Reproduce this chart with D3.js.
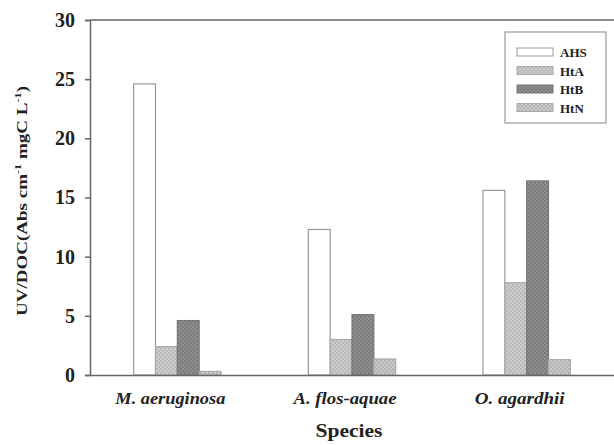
<!DOCTYPE html>
<meta charset="utf-8">
<style>
  body { margin: 0; background: #fff; }
  text { font-family: "Liberation Serif", "DejaVu Serif", serif; font-weight: bold; fill: #222; }
</style>
<body>
<script src="https://d3js.org/d3.v7.min.js"></script>
<script>

var species = ["M. aeruginosa", "A. flos-aquae", "O. agardhii"];
var series = ["AHS", "HtA", "HtB", "HtN"];
var AHS = [24.6, 12.3, 15.6];
var HtA = [2.4, 3.0, 7.8];
var HtB = [4.6, 5.1, 16.4];
var HtN = [0.3, 1.35, 1.3];
var yTicks = [0, 5, 10, 15, 20, 25, 30];

var values = {AHS: AHS, HtA: HtA, HtB: HtB, HtN: HtN};

var width = 614, height = 445;
var margin = {top: 20, right: -10, bottom: 70, left: 90};
var w = width - margin.left - margin.right,
    h = height - margin.top - margin.bottom;

var svg = d3.select("body").append("svg")
    .attr("width", width)
    .attr("height", height);

// patterns for the hatched bars
var defs = svg.append("defs");
function dots(id, bg, dot) {
  var p = defs.append("pattern")
      .attr("id", id)
      .attr("width", 4).attr("height", 4)
      .attr("patternUnits", "userSpaceOnUse");
  p.append("rect").attr("width", 4).attr("height", 4).attr("fill", bg);
  p.append("circle").attr("cx", 1).attr("cy", 1).attr("r", 0.8).attr("fill", dot);
  p.append("circle").attr("cx", 3).attr("cy", 3).attr("r", 0.8).attr("fill", dot);
}
dots("pA", "#b8b8b8", "#e8e8e8");
dots("pB", "#7c7c7c", "#a8a8a8");
dots("pN", "#b4b4b4", "#e4e4e4");

var fills = {AHS: "#fff", HtA: "url(#pA)", HtB: "url(#pB)", HtN: "url(#pN)"};
var strokes = {AHS: "#999", HtA: "#aaa", HtB: "#777", HtN: "#aaa"};

var g = svg.append("g")
    .attr("transform", "translate(" + margin.left + "," + margin.top + ")");

var x0 = d3.scaleBand()
    .domain(species)
    .range([0, 524])
    .paddingInner(0.5)
    .paddingOuter(0.25);

var x1 = d3.scaleBand()
    .domain(series)
    .range([0, x0.bandwidth()]);

var y = d3.scaleLinear()
    .domain([0, 30])
    .range([h, 0]);

species.forEach(function (s, i) {
  g.selectAll(null)
    .data(series)
    .enter().append("rect")
      .attr("x", function (d) { return x0(s) + x1(d); })
      .attr("y", function (d) { return y(values[d][i]); })
      .attr("width", x1.bandwidth())
      .attr("height", function (d) { return h - y(values[d][i]); })
      .attr("fill", function (d) { return fills[d]; })
      .attr("stroke", function (d) { return strokes[d]; })
      .attr("stroke-width", 1.2);
});

// frame
g.append("line")
    .attr("x1", 0).attr("x2", w).attr("y1", 0).attr("y2", 0)
    .attr("stroke", "#666").attr("stroke-width", 1.5);

var yAxis = g.append("g")
    .call(d3.axisLeft(y).tickValues(yTicks).tickSize(5).tickPadding(10));
yAxis.select(".domain").attr("stroke", "#666").attr("stroke-width", 1.5);
yAxis.selectAll(".tick line").attr("stroke", "#666").attr("stroke-width", 1.5);
yAxis.selectAll("text").style("font-size", "20px").attr("fill", "#333");

// scanned labels look stretched sideways
var labelWidth = {"M. aeruginosa": 110, "A. flos-aquae": 103, "O. agardhii": 90};

var xAxis = g.append("g")
    .attr("transform", "translate(0," + h + ")")
    .call(d3.axisBottom(x0).tickSize(0).tickPadding(17));
xAxis.select(".domain").attr("stroke", "#666").attr("stroke-width", 1.5);
xAxis.selectAll("text")
    .attr("dx", -7)
    .attr("textLength", function (d) { return labelWidth[d]; })
    .attr("lengthAdjust", "spacingAndGlyphs")
    .style("font-size", "17px")
    .style("font-style", "italic")
    .attr("fill", "#222");

svg.append("text")
    .attr("x", 349).attr("y", 437)
    .attr("text-anchor", "middle")
    .attr("textLength", 67)
    .attr("lengthAdjust", "spacingAndGlyphs")
    .style("font-size", "18px")
    .text("Species");

var yl = svg.append("text")
    .attr("transform", "translate(27,201) rotate(-90)")
    .attr("text-anchor", "middle")
    .attr("textLength", 230)
    .attr("lengthAdjust", "spacingAndGlyphs")
    .style("font-size", "14px");
yl.append("tspan").text("UV/DOC(Abs cm");
yl.append("tspan").attr("dy", -6).style("font-size", "9px").text("-1");
yl.append("tspan").attr("dy", 6).text(" mgC L");
yl.append("tspan").attr("dy", -6).style("font-size", "9px").text("-1");
yl.append("tspan").attr("dy", 6).text(")");

// legend
var lg = svg.append("g").attr("transform", "translate(505,32)");
lg.append("rect")
    .attr("width", 101).attr("height", 91)
    .attr("fill", "#fff").attr("stroke", "#999").attr("stroke-width", 1.2);
var item = lg.selectAll(".item")
    .data(series)
    .enter().append("g")
    .attr("transform", function (d, i) { return "translate(12," + (16 + i * 18.5) + ")"; });
item.append("rect")
    .attr("width", 36).attr("height", 8)
    .attr("fill", function (d) { return fills[d]; })
    .attr("stroke", function (d) { return strokes[d]; });
item.append("text")
    .attr("x", 43).attr("y", 9)
    .style("font-size", "13px")
    .text(function (d) { return d; });

</script>
</body>
